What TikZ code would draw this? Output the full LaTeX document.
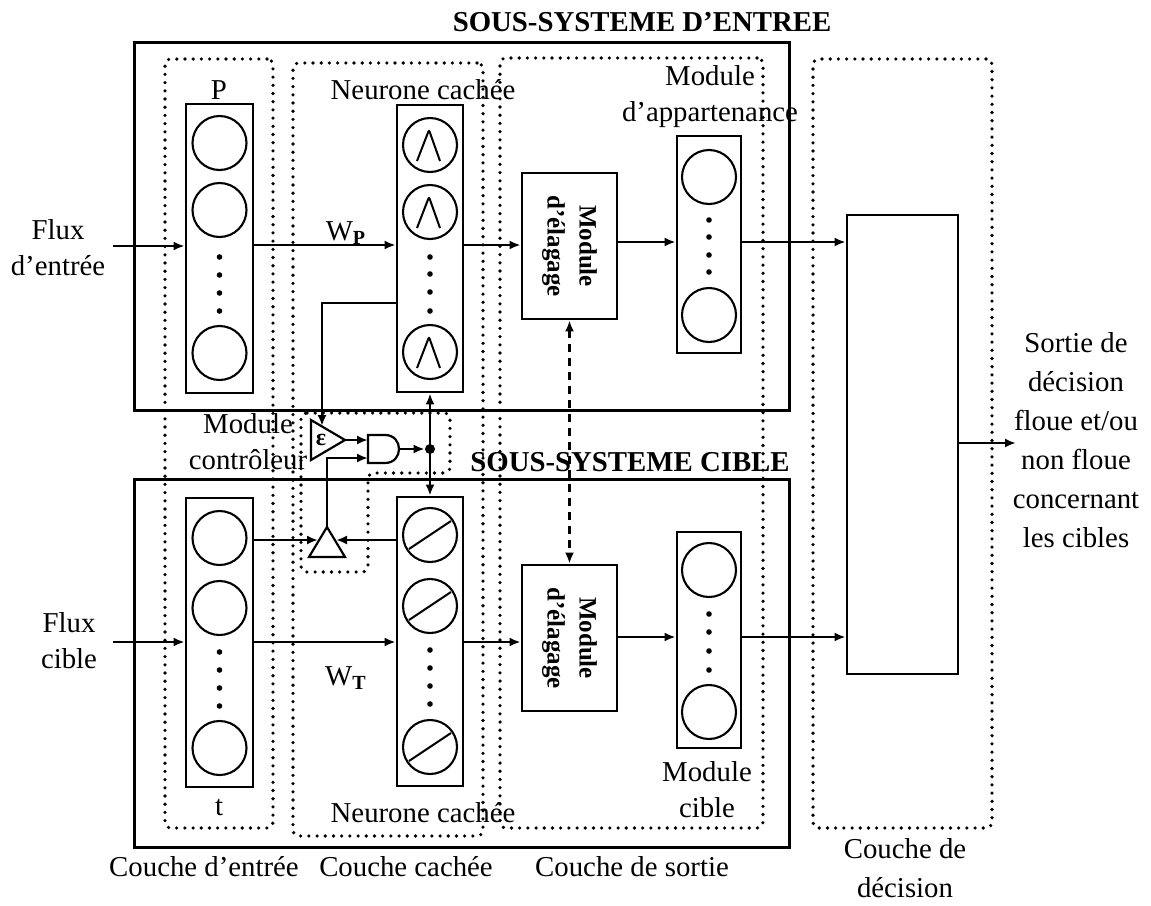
\documentclass[tikz,border=0pt]{standalone}
\usepackage{fontspec}
\setmainfont{Liberation Serif}
\usetikzlibrary{arrows.meta,fit,calc}
\newcommand\gaussmark[1]{\draw[line width=1pt, rounded corners=1pt] ([shift={(-13,16)}]#1) -- ([shift={(-1,-15)}]#1) -- ([shift={(10,16)}]#1);}
\newcommand\slashmark[1]{\draw[line width=1pt] ([shift={(-21,14)}]#1) -- ([shift={(21,-14)}]#1);}
\begin{document}
\begin{tikzpicture}[x=0.5pt,y=-0.5pt, font=\fontsize{14.4}{18}\selectfont,
 sysbox/.style={draw, line width=1.5pt, inner sep=0pt},
 colbox/.style={draw, line width=1.4pt, inner sep=0pt},
 layer/.style={draw, line width=1.8pt, dash pattern=on 0pt off 4.1pt, line cap=round, rounded corners=3pt, inner sep=0pt},
 neuron/.style={draw, circle, line width=1.05pt, minimum size=27pt, inner sep=0pt},
 dotn/.style={circle, fill, inner sep=0pt, minimum size=2.8pt},
 arr/.style={line width=1.1pt, -{Latex[length=5.5pt,width=4.5pt]}},
 darr/.style={line width=1.1pt, {Latex[length=5.5pt,width=4.5pt]}-{Latex[length=5.5pt,width=4.5pt]}},
 lbl/.style={align=center, inner sep=0pt},
 ttl/.style={font=\fontsize{14.4}{18}\selectfont\bfseries, inner sep=0pt},
 gate/.style={line width=1.1pt},
]
\useasboundingbox (0,0) rectangle (1151,905);

% subsystem boxes
\node[sysbox, fit={(134,42)(789,410)}] (sysE) {};
\node[sysbox, fit={(134,479)(789,847)}] (sysC) {};

% layers
\node[layer, fit={(165,59)(273,828)}] (Lin) {};
\node[layer, fit={(293,63)(483,836)}] (Lhid) {};
\node[layer, fit={(500,58)(763,828)}] (Lout) {};
\node[layer, fit={(813,59)(992,828)}] (Ldec) {};
\draw[layer] (301,413) -- (450,413) -- (450,473) -- (368,473) -- (368,572) -- (301,572) -- cycle;

% columns
\node[colbox, fit={(186,104)(253,393)}] (inP) {};
\node[colbox, fit={(186,498)(253,787)}] (inT) {};
\node[colbox, fit={(397,105)(463,392)}] (hidP) {};
\node[colbox, fit={(397,497)(463,786)}] (hidT) {};
\node[colbox, fit={(522,173)(617,319)}] (elP) {};
\node[colbox, fit={(522,565)(617,711)}] (elT) {};
\node[colbox, fit={(677,136)(741,353)}] (memP) {};
\node[colbox, fit={(677,532)(741,748)}] (memT) {};
\node[colbox, fit={(847,215)(958,674)}] (dec) {};

\node[rotate=-90, font=\fontsize{12.5}{16}\selectfont\bfseries, align=center, inner sep=0pt] (elPt) at (elP.center) {Module\\d’élagage};
\node[rotate=-90, font=\fontsize{12.5}{16}\selectfont\bfseries, align=center, inner sep=0pt] (elTt) at (elT.center) {Module\\d’élagage};

% neurons: input P
\node[neuron] (p1) at (219.5,143) {};
\node[neuron] (p2) at (219.5,210) {};
\node[neuron] (p3) at (219.5,353) {};
\foreach \y [count=\i] in {257,275,293,311} \node[dotn] (pd\i) at (219.5,\y) {};
% input t
\node[neuron] (t1) at (219.5,538) {};
\node[neuron] (t2) at (219.5,608) {};
\node[neuron] (t3) at (219.5,748) {};
\foreach \y [count=\i] in {652,670,688,706} \node[dotn] (td\i) at (219.5,\y) {};
% hidden P
\node[neuron] (h1) at (430,145) {};
\node[neuron] (h2) at (430,212) {};
\node[neuron] (h3) at (430,352) {};
\gaussmark{h1.center}\gaussmark{h2.center}\gaussmark{h3.center}
\foreach \y [count=\i] in {257,274,292,311} \node[dotn] (hd\i) at (430,\y) {};
% hidden T
\node[neuron] (g1) at (430,535) {};
\node[neuron] (g2) at (430,606) {};
\node[neuron] (g3) at (430,747) {};
\slashmark{g1.center}\slashmark{g2.center}\slashmark{g3.center}
\foreach \y [count=\i] in {650,668,686,704} \node[dotn] (gd\i) at (430,\y) {};
% membership
\node[neuron] (m1) at (709,177) {};
\node[neuron] (m2) at (709,315) {};
\foreach \y [count=\i] in {220,237,255,272} \node[dotn] (md\i) at (709,\y) {};
\node[neuron] (c1) at (709,570) {};
\node[neuron] (c2) at (709,712) {};
\foreach \y [count=\i] in {614,632,651,670} \node[dotn] (cd\i) at (709,\y) {};

% main connectors top
\coordinate (fE) at (113,246);
\draw[arr] (fE) -- (inP.west |- fE);
\draw[arr] (inP.east |- 0,245) -- (hidP.west |- 0,245);
\draw[arr] (hidP.east |- 0,245) -- (elP.west |- 0,245);
\draw[arr] (elP.east |- 0,242) -- (memP.west |- 0,242);
\draw[arr] (memP.east |- 0,242) -- (dec.west |- 0,242);
\coordinate (out) at (1016,443);
\draw[arr] (dec.east |- out) -- (out);
% bottom
\coordinate (fC) at (113,642);
\draw[arr] (fC) -- (inT.west |- fC);
\draw[arr] (inT.east |- 0,642) -- (hidT.west |- 0,642);
\draw[arr] (hidT.east |- 0,642) -- (elT.west |- 0,642);
\draw[arr] (elT.east |- 0,637) -- (memT.west |- 0,637);
\draw[arr] (memT.east |- 0,637) -- (dec.west |- 0,637);
\draw[darr, dash pattern=on 4pt off 3pt] (elP.south) -- (elT.north);

% controller
\coordinate (eA) at (311,420);
\coordinate (eB) at (311,460);
\coordinate (eC) at (345,440);
\draw[gate] (eA) -- (eC) -- (eB) -- cycle;
\node[font=\fontsize{12}{12}\selectfont\bfseries, inner sep=0pt] (eps) at (321,440) {ε};
\coordinate (eIn) at (322,426);
\draw[arr] (hidP.west |- 0,303) -| (eIn);
\draw[gate] (368,435) -- (385,435) .. controls (403.7,435) and (403.7,463) .. (385,463) -- (368,463) -- cycle;
\coordinate (andA) at (368,440);
\coordinate (andB) at (368,458);
\coordinate (andO) at (399,449);
\draw[arr] (eC) -- (andA);
\node[circle, fill, inner sep=0pt, minimum size=5pt] (jn) at (430,449) {};
\draw[arr] (andO) -- (jn.west);
\draw[arr] (jn.center) -- (hidP.south);
\draw[arr] (jn.center) -- (hidT.north);
\coordinate (cA) at (309,557);
\coordinate (cB) at (345,557);
\coordinate (cC) at (327,527);
\draw[gate] (cA) -- (cB) -- (cC) -- cycle;
\coordinate (cL) at (318,540);
\coordinate (cR) at (336,540);
\draw[arr] (inT.east |- cL) -- (cL);
\draw[arr] (hidT.west |- cR) -- (cR);
\draw[arr] (cC) |- (andB);

% labels
\node[ttl] (ttl1) at (642,22) {SOUS-SYSTEME D’ENTREE};
\node[ttl] (ttl2) at (630,462) {SOUS-SYSTEME CIBLE};
\node[lbl] (lP) at (219,90) {P};
\node[lbl] (lt) at (219,808) {t};
\node[lbl] (nc1) at (423,90) {Neurone cachée};
\node[lbl] (nc2) at (423,813) {Neurone cachée};
\node[lbl] (mA) at (710,97) {Module\\d’appartenance};
\node[lbl] (mC) at (707,790) {Module\\cible};
\node[lbl] (fl1) at (58,248) {Flux\\d’entrée};
\node[lbl] (fl2) at (69,641) {Flux\\cible};
\node[lbl] (mc) at (248,442) {Module\\contrôleur};
\node[lbl] (wp) at (346,233) {W\textsubscript{\textbf{P}}};
\node[lbl] (wt) at (346,678) {W\textsubscript{\textbf{T}}};
\node[lbl, font=\fontsize{14.4}{19.5}\selectfont] (so) at (1076,440) {Sortie de\\décision\\floue et/ou\\non floue\\concernant\\les cibles};
\node[lbl] (lc1) at (204,867) {Couche d’entrée};
\node[lbl] (lc2) at (406,867) {Couche cachée};
\node[lbl] (lc3) at (632,867) {Couche de sortie};
\node[lbl, font=\fontsize{14.4}{19.5}\selectfont] (lc4) at (905,868) {Couche de\\décision};
\end{tikzpicture}
\end{document}
